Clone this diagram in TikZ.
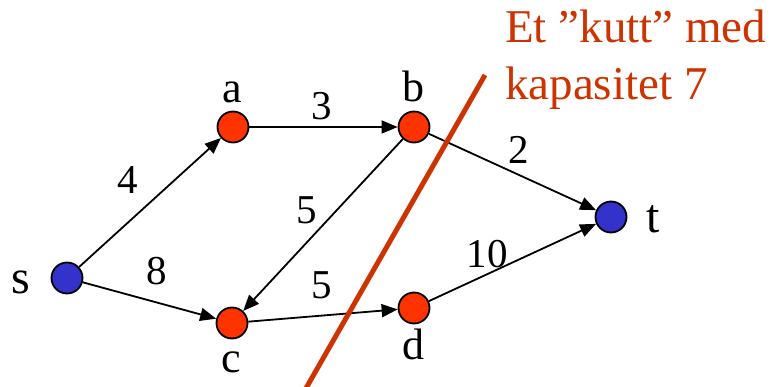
\documentclass[tikz,border=0pt]{standalone}
\usepackage{fontspec}
\setmainfont{Liberation Serif}
\usetikzlibrary{arrows.meta}
\definecolor{nodered}{HTML}{FF3300}
\definecolor{nodeblue}{HTML}{3333CC}
\definecolor{cutred}{HTML}{CC3300}
\begin{document}
\begin{tikzpicture}[x=1pt,y=-1pt,
  vert/.style={circle,draw=black,line width=1.8pt,minimum size=31pt,inner sep=0pt},
  rv/.style={vert,fill=nodered},
  bv/.style={vert,fill=nodeblue},
  edge/.style={line width=1.8pt,-{Triangle[length=16pt,width=13pt]}},
  wlbl/.style={inner sep=0pt,font=\fontsize{41}{41}\selectfont},
  lbl/.style={inner sep=0pt,anchor=base,font=\fontsize{44}{44}\selectfont},
  biglbl/.style={inner sep=0pt,anchor=base,font=\fontsize{48}{48}\selectfont},
  cuttext/.style={inner sep=0pt,anchor=base west,text=cutred,font=\fontsize{47}{47}\selectfont}]
\useasboundingbox (0,0) rectangle (776,387);
\node[bv] (s) at (67,278) {};
\node[rv] (a) at (233,127) {};
\node[rv] (b) at (414,127) {};
\node[rv] (c) at (232,323) {};
\node[rv] (d) at (414,308) {};
\node[bv] (t) at (611,217) {};
\node[biglbl] (ls) at (21,294) {s};
\node[biglbl] (lt) at (653,233) {t};
\node[lbl] (la) at (232,103) {a};
\node[lbl] (lb) at (413,102) {b};
\node[lbl] (lc) at (231,372) {c};
\node[lbl] (ld) at (413,359) {d};
\draw[edge] (s) -- (a);
\draw[edge] (s) -- (c);
\draw[edge] (a) -- (b);
\draw[edge] (b) -- (c);
\draw[edge] (b) -- (t);
\draw[edge] (c) -- (d);
\draw[edge] (d) -- (t);
\node[wlbl] (w4) at (128,180) {4};
\node[wlbl] (w8) at (157,271) {8};
\node[wlbl] (w3) at (322,106) {3};
\node[wlbl] (w5a) at (307,210) {5};
\node[wlbl] (w5b) at (322,285) {5};
\node[wlbl] (w2) at (519,150) {2};
\node[wlbl] (w10) at (487,254) {10};
\coordinate (cuttop) at (485,75);
\coordinate (cutbot) at (305,390);
\draw[cutred,line width=5pt] (cuttop) -- (cutbot);
\node[cuttext] (ct1) at (505,43) {Et ”kutt” med};
\node[cuttext] (ct2) at (505,100) {kapasitet 7};
\end{tikzpicture}
\end{document}
